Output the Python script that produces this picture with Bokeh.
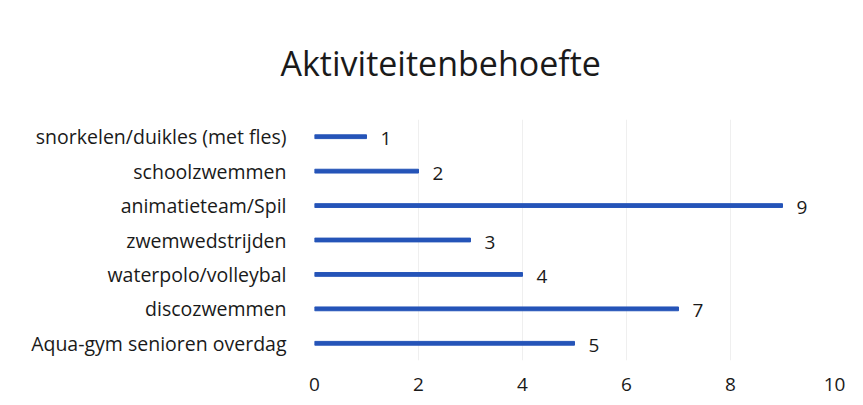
from bokeh.plotting import figure
from bokeh.models import FactorRange, Range1d, ColumnDataSource, FixedTicker
from bokeh.core.properties import value
from bokeh.embed import file_html
from bokeh.resources import INLINE

title_text = "Aktiviteitenbehoefte"
categories = [
    "snorkelen/duikles (met fles)",
    "schoolzwemmen",
    "animatieteam/Spil",
    "zwemwedstrijden",
    "waterpolo/volleybal",
    "discozwemmen",
    "Aqua-gym senioren overdag",
]
values = [1, 2, 9, 3, 4, 7, 5]
x_ticks = [0, 2, 4, 6, 8, 10]

FONT = "Open Sans"
BAR = "#2554b8"
TXT = "#1a1a1a"

W, H = 847, 397
p = figure(
    width=W, height=H,
    y_range=FactorRange(factors=list(reversed(categories))),
    x_range=Range1d(0, 10),
    output_backend="svg", toolbar_location=None,
    min_border_left=314, min_border_right=13,
    min_border_top=119, min_border_bottom=37,
    title=title_text,
)
p.outline_line_color = None
p.background_fill_color = "white"
p.border_fill_color = "white"

p.title.align = "left"
p.title.offset = -34
p.title.text_font = FONT
p.title.text_font_size = "34px"
p.title.text_font_style = "normal"
p.title.text_color = TXT
p.title.standoff = 67

src = ColumnDataSource(dict(cat=categories, val=values, lab=[str(v) for v in values]))
p.hbar(y="cat", right="val", left=0, height=0.11, color=BAR, source=src)
p.text(x="val", y="cat", text="lab", source=src, x_offset=14, y_offset=2,
       text_align="left", text_baseline="middle", text_font=value(FONT),
       text_font_size="19px", text_color=TXT)

p.xaxis.ticker = FixedTicker(ticks=x_ticks)
p.xaxis.axis_line_color = None
p.xaxis.major_tick_line_color = None
p.xaxis.minor_tick_line_color = None
p.xaxis.major_label_text_font = FONT
p.xaxis.major_label_text_font_size = "19px"
p.xaxis.major_label_text_color = TXT
p.xaxis.major_label_standoff = 11

p.yaxis.axis_line_color = None
p.yaxis.major_tick_line_color = None
p.yaxis.minor_tick_line_color = None
p.yaxis.major_label_text_font = FONT
p.yaxis.major_label_text_font_size = "19.5px"
p.yaxis.major_label_text_color = TXT
p.yaxis.major_label_standoff = 22

p.xgrid.grid_line_color = "#efefef"
p.ygrid.grid_line_color = None

open("out.html", "w").write(file_html(p, INLINE))
